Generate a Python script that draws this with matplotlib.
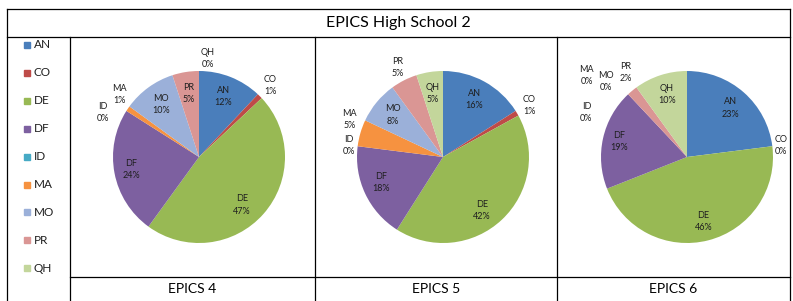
import numpy as np
import matplotlib.pyplot as plt
from matplotlib.lines import Line2D
from matplotlib.patches import Rectangle

plt.rcParams['font.family'] = ['Lato', 'DejaVu Sans']

categories = ['AN', 'CO', 'DE', 'DF', 'ID', 'MA', 'MO', 'PR', 'QH']
colors = ['#4A7EBB', '#BE4B48', '#98B954', '#7D60A0', '#46AAC5',
          '#F69240', '#9BB0D9', '#DA9694', '#C3D69B']

epics4 = [12, 1, 47, 24, 0, 1, 10, 5, 0]
epics5 = [16, 1, 42, 18, 0, 5, 8, 5, 5]
epics6 = [23, 0, 46, 19, 0, 0, 0, 2, 10]
panel_titles = ['EPICS 4', 'EPICS 5', 'EPICS 6']
title = 'EPICS High School 2'

# label placement: radius factor per slice, plus angle overrides (deg clockwise from top)
label_r = [
    [0.76, 1.17, 0.75, 0.80, 1.23, 1.18, 0.76, 0.75, 1.15],
    [0.76, 1.17, 0.77, 0.78, 1.10, 1.17, 0.76, 1.17, 0.75],
    [0.76, 1.10, 0.77, 0.81, 1.28, 1.50, 1.29, 1.22, 0.76],
]
label_ang = [
    {2: 138, 4: 295, 5: 308, 8: 5},
    {2: 144, 3: 248, 5: 292, 6: 310},
    {4: 294, 5: 309, 6: 313, 7: 324},
]

W, H = 793, 301
fig = plt.figure(figsize=(W / 100, H / 100), dpi=100)


def line(x0, y0, x1, y1):
    fig.add_artist(Line2D([x0 / W, x1 / W], [1 - y0 / H, 1 - y1 / H],
                          color='black', lw=0.9))


# table grid
left, right, top = 7, 790, 9
line(left, top, right, top)
line(left, 37, right, 37)
line(left, top, left, H)
line(right, top, right, H)
col_x = [70, 315, 557]
for x in col_x:
    line(x, 37, x, H)
line(70, 277, right, 277)

fig.text((left + right) / 2 / W, 1 - 23 / H, title, ha='center', va='center',
         fontsize=11.5)

# legend
for i, (cat, c) in enumerate(zip(categories, colors)):
    y = 45 + i * 27.9
    fig.add_artist(Rectangle(((24) / W, 1 - (y + 3) / H), 6 / W, 6 / H,
                             color=c, transform=fig.transFigure))
    fig.text(34 / W, 1 - y / H, cat, ha='left', va='center', fontsize=8.5,
             color='#1F1F1F')

# pies
centers = [(199, 157), (443, 157), (687, 157)]
R = 86
S = 1.6
cell_mid = [(70 + 315) / 2, (315 + 557) / 2, (557 + 790) / 2]
for k, vals in enumerate([epics4, epics5, epics6]):
    cx, cy = centers[k]
    ax = fig.add_axes([(cx - R * S) / W, (H - cy - R * S) / H,
                       2 * R * S / W, 2 * R * S / H])
    ax.pie(vals, colors=colors, startangle=90, counterclock=False, radius=1,
           wedgeprops=dict(linewidth=0))
    ax.set_xlim(-S, S)
    ax.set_ylim(-S, S)
    ax.set_aspect('equal')
    ax.axis('off')
    total = float(sum(vals))
    cum = np.cumsum([0] + vals) / total
    for i, cat in enumerate(categories):
        mid = (cum[i] + cum[i + 1]) / 2 * 360
        ang = label_ang[k].get(i, mid)
        r = label_r[k][i]
        th = np.deg2rad(90 - ang)
        ax.text(r * np.cos(th), r * np.sin(th),
                '%s\n%d%%' % (cat, round(vals[i] / total * 100)),
                ha='center', va='center', fontsize=6.5, linespacing=1.45,
                color='#1F1F1F', clip_on=False)
    fig.text(cell_mid[k] / W, 1 - 289 / H, panel_titles[k], ha='center',
             va='center', fontsize=10)

fig.savefig('out.png', dpi=100)
